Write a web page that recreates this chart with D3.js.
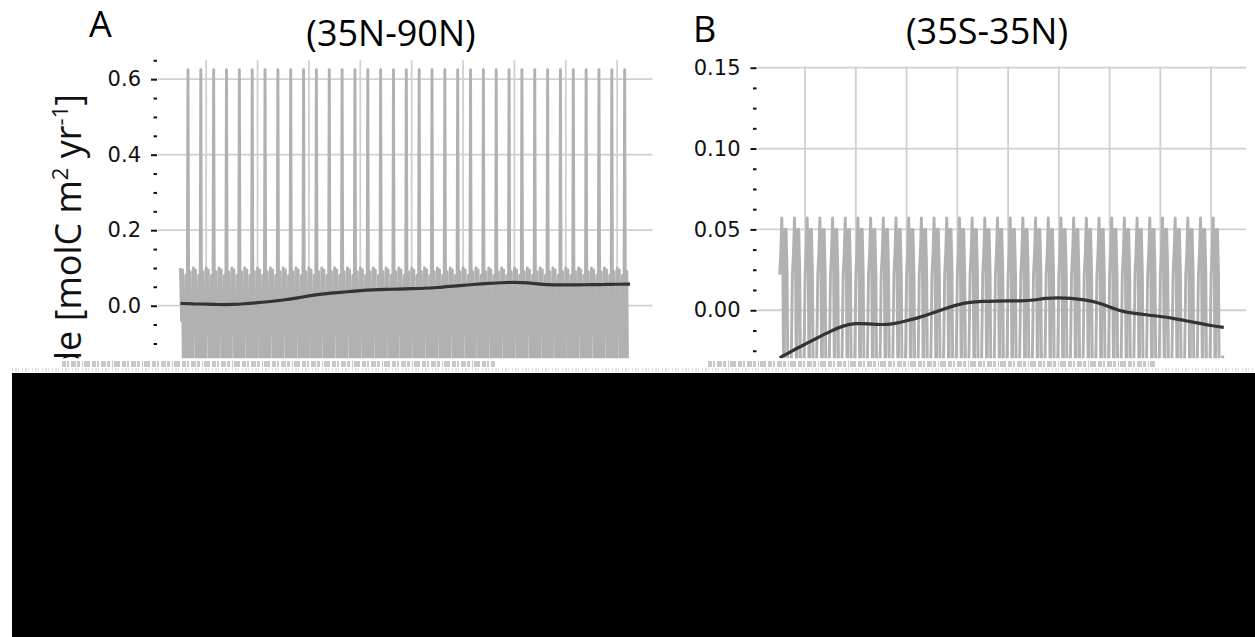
<!DOCTYPE html>
<html>
<head>
<meta charset="utf-8">
<script src="https://cdn.jsdelivr.net/npm/d3@7"></script>
<style>
  body { margin: 0; background: #fff; }
  svg { display: block; }
</style>
</head>
<body>
<div id="vis"></div>
<script>

// monthly cycle repeats identically every year in both panels
const years = [1982,1983,1984,1985,1986,1987,1988,1989,1990,1991,1992,1993,1994,1995,1996,1997,1998,1999,
  2000,2001,2002,2003,2004,2005,2006,2007,2008,2009,2010,2011,2012,2013,2014,2015,2016];
const seasonA = [0.1, -0.04, 0.095, -0.35, -0.3, 0.08, -0.35, 0.625, -0.35, 0.09, -0.3, -0.35];
const seasonB = [0.022, 0.035, 0.057, 0.024, -0.07, 0.05, 0.05, 0.022, -0.07, -0.07, -0.07, -0.028];

// smoothed trend (black line)
const trendYears = [1982,1983,1984,1985,1986,1987,1988,1989,1990,1991,1992,1993,1994,1995,1996,1997,1998,1999,
  2000,2001,2002,2003,2004,2005,2006,2007,2008,2009,2010,2011,2012,2013,2014,2015,2016,2017];
const trendA = [0.006,0.005,0.004,0.003,0.003,0.005,0.008,0.011,0.015,0.020,0.026,0.031,0.034,0.037,0.040,0.042,0.043,0.044,
  0.045,0.046,0.048,0.051,0.054,0.057,0.059,0.061,0.062,0.061,0.057,0.055,0.055,0.055,0.056,0.056,0.057,0.057];
const trendB = [-0.0295,-0.025,-0.021,-0.017,-0.013,-0.0095,-0.008,-0.0085,-0.009,-0.0085,-0.0065,-0.0045,-0.002,0.001,0.0035,0.005,0.0055,0.0057,
  0.0058,0.0057,0.0062,0.0075,0.0078,0.0074,0.0065,0.005,0.002,-0.0008,-0.002,-0.003,-0.0038,-0.005,-0.0065,-0.008,-0.0095,-0.0107];

const gridYears = [1984,1988,1992,1996,2000,2004,2008,2012,2016];
const yTicksA = [0, 0.2, 0.4, 0.6];
const yMinorA = [-0.15,-0.1,-0.05,0.05,0.1,0.15,0.25,0.3,0.35,0.45,0.5,0.55,0.65];
const yTicksB = [0, 0.05, 0.10, 0.15];
const yMinorB = [-0.0375,-0.025,-0.0125,0.0125,0.025,0.0375,0.0625,0.075,0.0875,0.1125,0.125,0.1375];
const letters = ["A", "B"];
const titles = ["(35N-90N)", "(35S-35N)"];

const size = {width: 1255, height: 637};
const cutY = 358.5; // everything below is lost in the reference

const svg = d3.select("#vis").append("svg")
  .attr("viewBox", [0, 0, size.width, size.height])
  .attr("width", size.width)
  .attr("height", size.height)
  .style("background", "#fff");

svg.append("clipPath").attr("id", "cut")
  .append("rect").attr("x", 0).attr("y", 0).attr("width", size.width).attr("height", cutY);

function drawPanel(g, opt){
  const x = d3.scaleLinear().domain([1980.25, 2018.75]).range(opt.xRange);
  const y = d3.scaleLinear().domain(opt.yDomain).range(opt.yRange);
  const top = y(opt.yDomain[1]);
  const bottom = y(opt.yDomain[0]);

  const body = g.append("g").attr("clip-path", "url(#cut)");

  // grid
  body.selectAll(".hgrid")
    .data(opt.ticks)
    .join("line")
    .attr("x1", opt.xRange[0]).attr("x2", opt.xRange[1])
    .attr("y1", d => y(d)).attr("y2", d => y(d))
    .style("stroke", "#d0d0d0").style("stroke-width", 1.8);
  body.selectAll(".vgrid")
    .data(gridYears)
    .join("line")
    .attr("x1", d => x(d)).attr("x2", d => x(d))
    .attr("y1", top).attr("y2", bottom)
    .style("stroke", "#d0d0d0").style("stroke-width", 1.8);

  // monthly series
  const monthly = years.flatMap(yr => opt.season.map((v, i) => ({t: yr + i / 12, v})));
  body.append("path")
    .datum(monthly)
    .attr("d", d3.line().x(d => x(d.t)).y(d => y(d.v)))
    .style("fill", "none")
    .style("stroke", "#b1b1b1")
    .style("stroke-width", 2.9)
    .style("stroke-linejoin", "round");

  // trend
  body.append("path")
    .datum(trendYears.map((t, i) => ({t, v: opt.trend[i]})))
    .attr("d", d3.line().curve(d3.curveBasis).x(d => x(d.t)).y(d => y(d.v)))
    .style("fill", "none")
    .style("stroke", "#333")
    .style("stroke-width", 3.2);

  // y axis (no spine)
  const ax = body.append("g")
    .attr("transform", `translate(${opt.xRange[0] - 1}, 0)`)
    .call(d3.axisLeft(y).tickValues(opt.ticks).tickFormat(opt.fmt).tickSize(6).tickPadding(10));
  ax.select(".domain").remove();
  ax.selectAll("line").style("stroke", "#111").style("stroke-width", 2);
  ax.selectAll("text")
    .style("font-family", "DejaVu Sans")
    .style("font-size", "21px")
    .style("fill", "#111");

  const minor = body.append("g")
    .attr("transform", `translate(${opt.xRange[0] - 1}, 0)`)
    .call(d3.axisLeft(y).tickValues(opt.minor).tickFormat("").tickSize(3.5));
  minor.select(".domain").remove();
  minor.selectAll("line").style("stroke", "#111").style("stroke-width", 2);

  // titles
  g.append("text")
    .attr("x", opt.letterPos[0]).attr("y", opt.letterPos[1])
    .style("font-family", "Open Sans")
    .style("font-size", "36px")
    .text(opt.letter);
  g.append("text")
    .attr("x", opt.titlePos[0]).attr("y", opt.titlePos[1])
    .attr("text-anchor", "middle")
    .style("font-family", "Open Sans")
    .style("font-size", "36px")
    .text(opt.title);
}

drawPanel(svg.append("g"), {
  xRange: [158, 652.5], yDomain: [-0.2, 0.65], yRange: [381.2, 60.3],
  ticks: yTicksA, minor: yMinorA, fmt: d3.format(".1f"),
  season: seasonA, trend: trendA,
  letter: letters[0], letterPos: [89, 37], title: titles[0], titlePos: [391, 46]
});
drawPanel(svg.append("g"), {
  xRange: [757.5, 1246], yDomain: [-0.04, 0.15], yRange: [374.9, 67.7],
  ticks: yTicksB, minor: yMinorB, fmt: d3.format(".2f"),
  season: seasonB, trend: trendB,
  letter: letters[1], letterPos: [693, 42], title: titles[1], titlePos: [987, 44]
});

// y label, only its end survives in the reference
const ylab = svg.append("g")
  .attr("clip-path", "url(#cut)")
  .append("text")
  .attr("transform", "translate(81, 94) rotate(-90)")
  .attr("text-anchor", "end")
  .style("font-family", "Open Sans")
  .style("font-size", "36px")
  .style("fill", "#111");
ylab.append("tspan").text("Amplitude [molC m");
ylab.append("tspan").attr("dy", -13).style("font-size", "22px").text("2");
ylab.append("tspan").attr("dy", 13).text(" yr");
ylab.append("tspan").attr("dy", -13).style("font-size", "22px").text("-1");
ylab.append("tspan").attr("dy", 13).text("]");

// damaged strip and blacked-out lower half
svg.append("rect").attr("x", 0).attr("y", cutY).attr("width", size.width).attr("height", 15).style("fill", "#fff");
const noise = [[62, 495], [708, 1155]];
svg.selectAll(".noise")
  .data(noise)
  .join("line")
  .attr("x1", d => d[0]).attr("x2", d => d[1])
  .attr("y1", 364).attr("y2", 364)
  .style("stroke", "#c9c9c9")
  .style("stroke-width", 6)
  .style("stroke-dasharray", "4 1 2 2 5 1 3 2 1 1 6 2");
svg.append("line")
  .attr("x1", 12).attr("x2", size.width).attr("y1", 370).attr("y2", 370)
  .style("stroke", "#e4dde6").style("stroke-width", 4)
  .style("stroke-dasharray", "1 2 2 1 1 3");
svg.append("rect")
  .attr("x", 12).attr("y", 373)
  .attr("width", size.width - 12).attr("height", size.height - 373)
  .style("fill", "#000");

</script>
</body>
</html>
